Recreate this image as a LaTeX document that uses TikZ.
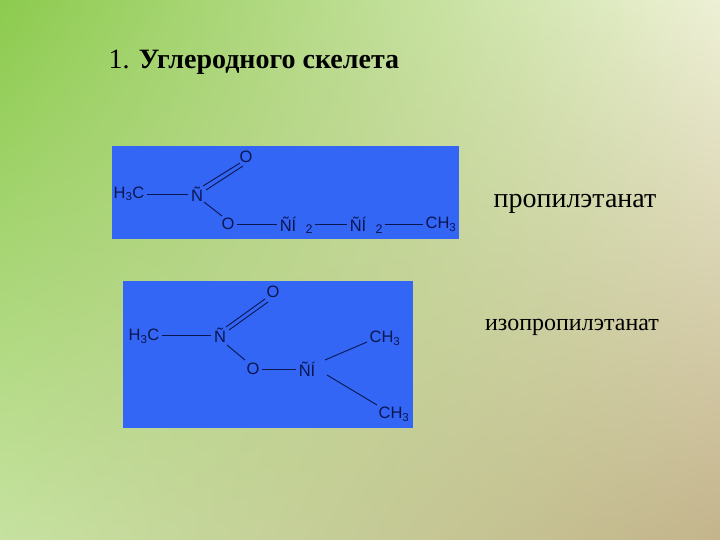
\documentclass[tikz,border=0pt]{standalone}
\usepackage{fontspec}
\usetikzlibrary{shadings}
\setmainfont{Liberation Serif}
\newfontfamily\chem{Liberation Sans}
\begin{document}
\begin{tikzpicture}[x=1pt,y=-1pt,
  atm/.style={font=\chem\fontsize{16.5}{16.5}\selectfont,text=chemc,inner sep=0pt},
  sub/.style={font=\chem\fontsize{12.5}{12.5}\selectfont,text=chemc,inner sep=0pt},
  bond/.style={draw=chemc,line width=0.9pt},
  box/.style={fill=chemblue,draw=none}]
\definecolor{chemblue}{HTML}{3366F5}
\definecolor{chemc}{HTML}{0A1650}
\definecolor{ul}{HTML}{8CCB4E}
\definecolor{ur}{HTML}{EEF0D6}
\definecolor{ll}{HTML}{C6E2A0}
\definecolor{lr}{HTML}{C4B48C}
\useasboundingbox (0,0) rectangle (720,540);
\shade[upper left=ul,upper right=ur,lower left=ll,lower right=lr] (0,0) rectangle (720,540);
\node[anchor=west,font=\fontsize{28}{28}\selectfont] (title) at (105,62) {1. \textbf{Углеродного скелета}};
% box 1
\fill[box] (112,146) rectangle (459,239);
\node[atm] (o1) at (246,157) {O};
\node[atm] (n1) at (197,194) {Ñ};
\node[atm] (h1) at (129,194) {H\textsubscript{3}C};
\node[atm] (o2) at (228,224) {O};
\node[atm] (c1) at (288,224) {ÑÍ};
\node[sub] (s1) at (309,229) {2};
\node[atm] (c2) at (358,224) {ÑÍ};
\node[sub] (s2) at (379,229) {2};
\node[atm] (c3) at (441,224) {CH\textsubscript{3}};
\draw[bond] ([xshift=2pt]h1.east) -- ([xshift=-3pt]n1.west);
\draw[bond] (203,186) -- (240,163);
\draw[bond] (206,190) -- (243,166);
\draw[bond] (204,202) -- (222,216);
\draw[bond] ([xshift=2pt]o2.east) -- ([xshift=-3pt]c1.west);
\draw[bond] ([xshift=2pt]s1.east|-c1) -- ([xshift=-3pt]c2.west);
\draw[bond] ([xshift=2pt]s2.east|-c2) -- ([xshift=-2pt]c3.west);
\node[font=\fontsize{28}{28}\selectfont] (l1) at (575,204) {пропилэтанат};
% box 2
\fill[box] (123,281) rectangle (413,428);
\node[atm] (p1) at (273,292) {O};
\node[atm] (m1) at (220,335) {Ñ};
\node[atm] (q1) at (144,336) {H\textsubscript{3}C};
\node[atm] (p2) at (253,369) {O};
\node[atm] (d1) at (307,369) {ÑÍ};
\node[atm] (e1) at (385,338) {CH\textsubscript{3}};
\node[atm] (e2) at (394,414) {CH\textsubscript{3}};
\draw[bond] (162,335) -- (211,335);
\draw[bond] (226,327) -- (265,299);
\draw[bond] (229,330) -- (268,302);
\draw[bond] (227,345) -- (245,360);
\draw[bond] (262,369) -- (296,369);
\draw[bond] (325,360) -- (367,342);
\draw[bond] (327,375) -- (377,405);
\node[font=\fontsize{24}{24}\selectfont] (l2) at (572,327) {изопропилэтанат};
\end{tikzpicture}
\end{document}
